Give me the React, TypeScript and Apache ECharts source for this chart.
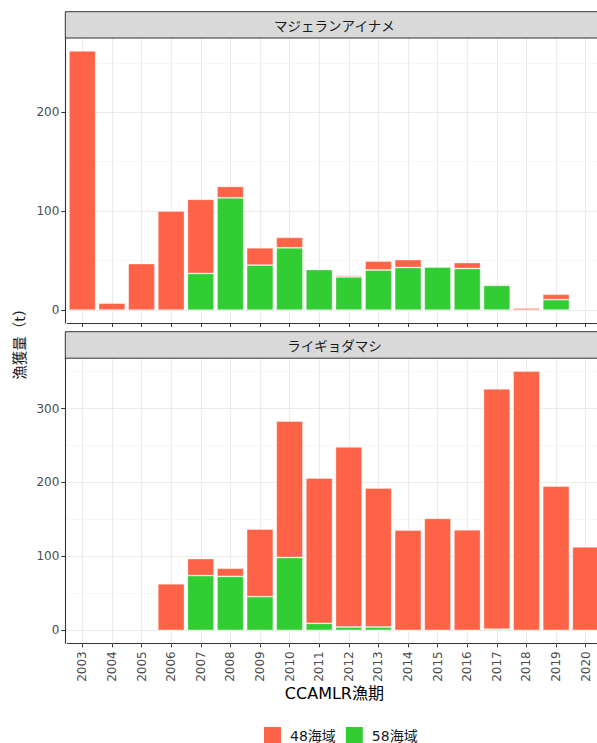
import React, { useEffect, useRef } from "react";
import * as echarts from "echarts";

const categories = [
  "2003", "2004", "2005", "2006", "2007", "2008", "2009", "2010", "2011",
  "2012", "2013", "2014", "2015", "2016", "2017", "2018", "2019", "2020",
];

// マジェランアイナメ (t)
const patagonian58 = [0, 0, 0, 0, 37, 113.5, 45.5, 63, 41, 33.5, 40.5, 43, 43.5, 42, 25, 0, 10.5, 0];
const patagonian48 = [262, 7, 47, 100, 75, 11.5, 17.5, 10.5, 0, 1.5, 9, 8, 0, 6, 1, 2, 5.5, 0];

// ライギョダマシ (t)
const antarctic58 = [0, 0, 0, 0, 74, 73, 45.5, 98.5, 9.5, 4.5, 4.5, 0, 0, 0, 1.5, 0, 0, 0];
const antarctic48 = [0, 0, 0, 63, 23, 11, 91.5, 184.5, 196.5, 243.5, 188, 135.5, 151.5, 136, 325, 350.5, 195, 113];

const panelTitles = ["マジェランアイナメ", "ライギョダマシ"];
const seriesNames = ["48海域", "58海域"];
const colors = { s48: "#FF6347", s58: "#32CD32" };

const topMajor = [0, 100, 200];
const topMinor = [50, 150, 250];
const bottomMajor = [0, 100, 200, 300];
const bottomMinor = [50, 150, 250, 350];

const yTitle = "漁獲量（t）";
const xTitle = "CCAMLR漁期";

const FONT = "'DejaVu Sans', 'Noto Sans CJK JP', sans-serif";

export default function App() {
  const ref = useRef<HTMLDivElement>(null);

  useEffect(() => {
    if (!ref.current) return;
    const chart = echarts.init(ref.current, null, { renderer: "svg" });

    const panels = [
      { s58: patagonian58, s48: patagonian48, major: topMajor, minor: topMinor, top: 38, height: 285 },
      { s58: antarctic58, s48: antarctic48, major: bottomMajor, minor: bottomMinor, top: 358.2, height: 285.1 },
    ];

    const gridLeft = 67.5;
    const gridRight = 9.5;

    const grids = panels.map((p) => ({ left: gridLeft, right: gridRight, top: p.top, height: p.height }));

    const xAxes = panels.map((p, i) => ({
      type: "category",
      gridIndex: i,
      data: categories,
      boundaryGap: true,
      axisLine: { show: true, onZero: false, lineStyle: { color: "#333", width: 1.1 } },
      axisTick: { show: true, alignWithLabel: true, length: 4, lineStyle: { color: "#333", width: 1 } },
      axisLabel: {
        show: i === 1,
        rotate: 90,
        margin: 8,
        fontSize: 12,
        color: "#4d4d4d",
        fontFamily: FONT,
        interval: 0,
      },
      splitLine: { show: false },
    }));

    const yAxes = panels.map((p, i) => {
      const totals = categories.map((_, k) => p.s58[k] + p.s48[k]);
      const mx = Math.max(...totals);
      return {
        type: "value",
        gridIndex: i,
        min: -mx * 0.05,
        max: mx * 1.05,
        offset: 2.2,
        axisLine: { show: true, onZero: false, lineStyle: { color: "#333", width: 1.1 } },
        axisTick: { show: true, length: 4, customValues: p.major, lineStyle: { color: "#333", width: 1 } },
        axisLabel: {
          show: true,
          customValues: p.major,
          margin: 6,
          fontSize: 12,
          color: "#4d4d4d",
          fontFamily: FONT,
        },
        splitLine: { show: false },
        minorSplitLine: { show: false },
      };
    });

    const gridLines = (p: any) => ({
      silent: true,
      symbol: ["none", "none"],
      z: 1,
      animation: false,
      label: { show: false },
      emphasis: { disabled: true },
      lineStyle: { type: "solid", color: "#ebebeb", width: 1.1 },
      data: [
        ...p.minor.map((v: number) => ({ yAxis: v, lineStyle: { type: "solid", color: "#f3f3f3", width: 0.7 } })),
        ...p.major.map((v: number) => ({ yAxis: v, lineStyle: { type: "solid", color: "#ebebeb", width: 1.1 } })),
        ...categories.map((c) => ({ xAxis: c, lineStyle: { type: "solid", color: "#ebebeb", width: 1.1 } })),
      ],
    });

    const series: any[] = [];
    panels.forEach((p, i) => {
      series.push({
        type: "bar",
        name: seriesNames[1],
        xAxisIndex: i,
        yAxisIndex: i,
        stack: "s" + i,
        barCategoryGap: "10%",
        data: p.s58.map((v) => (v > 0 ? v : null)),
        itemStyle: { color: colors.s58, borderColor: "rgba(255,255,255,0.45)", borderWidth: 0.8 },
        markLine: gridLines(p),
        z: 2,
      });
      series.push({
        type: "bar",
        name: seriesNames[0],
        xAxisIndex: i,
        yAxisIndex: i,
        stack: "s" + i,
        barCategoryGap: "10%",
        data: p.s48.map((v) => (v > 0 ? v : null)),
        itemStyle: { color: colors.s48, borderColor: "rgba(255,255,255,0.45)", borderWidth: 0.8 },
        z: 2,
      });
    });

    const strips = [
      { y: 11.7, h: 26.3, title: panelTitles[0] },
      { y: 331.7, h: 26.5, title: panelTitles[1] },
    ];

    const graphic: any[] = [];
    strips.forEach((s) => {
      graphic.push({
        type: "rect",
        shape: { x: 65.3, y: s.y, width: 560, height: s.h },
        style: { fill: "#d9d9d9", stroke: "#333", lineWidth: 1 },
        z: 10,
      });
      graphic.push({
        type: "text",
        x: 334.4,
        y: s.y + s.h / 2,
        style: {
          text: s.title,
          align: "center",
          verticalAlign: "middle",
          fontSize: 13.5,
          fill: "#1a1a1a",
          fontFamily: "'Noto Sans CJK JP', sans-serif",
        },
        z: 11,
      });
    });
    graphic.push({
      type: "text",
      x: 20,
      y: 340.6,
      rotation: Math.PI / 2,
      style: {
        text: yTitle,
        align: "center",
        verticalAlign: "middle",
        fontSize: 14.5,
        fill: "#1a1a1a",
        fontFamily: FONT,
      },
    });
    graphic.push({
      type: "text",
      x: 334.4,
      y: 693,
      style: {
        text: xTitle,
        align: "center",
        verticalAlign: "middle",
        fontSize: 16,
        fill: "#000",
        fontFamily: FONT,
      },
    });

    chart.setOption({
      animation: false,
      backgroundColor: "#fff",
      textStyle: { fontFamily: FONT },
      grid: grids,
      xAxis: xAxes,
      yAxis: yAxes,
      series,
      graphic,
      legend: {
        data: seriesNames,
        left: 264,
        top: 727,
        padding: 0,
        itemWidth: 17,
        itemHeight: 17,
        itemGap: 10,
        icon: "rect",
        itemStyle: { borderWidth: 0 },
        textStyle: { fontSize: 14, color: "#1a1a1a", fontFamily: FONT, padding: [0, 0, 0, 4] },
        selectedMode: false,
      },
    });

    return () => chart.dispose();
  }, []);

  return (
    <div
      style={{
        position: "absolute",
        left: 0,
        top: 0,
        width: 597,
        height: 743,
        overflow: "hidden",
        background: "#fff",
      }}
    >
      <div ref={ref} style={{ width: 610, height: 743 }} />
    </div>
  );
}
